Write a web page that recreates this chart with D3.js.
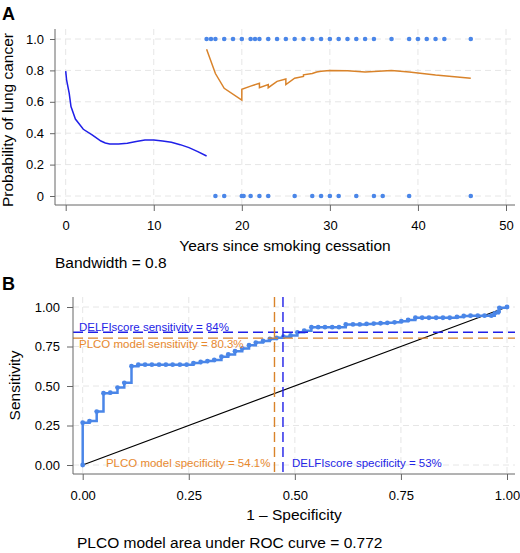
<!DOCTYPE html>
<html>
<head>
<meta charset="utf-8">
<script src="https://cdn.jsdelivr.net/npm/d3@7"></script>
<style>
  body { margin: 0; background: #fff; }
  text { font-family: "Liberation Sans", Arial, Helvetica, sans-serif; }
</style>
</head>
<body>
<script>
// Chart dimension
const width = 520;
const height = 553;

// Panel A: observed outcomes (0/1) by years since cessation
const eventYears = [16, 16.5, 17, 18, 19, 20, 21, 21.5, 22, 23, 24, 25, 26, 27, 28, 29, 30, 31, 32, 33, 34, 35, 37, 39, 40, 41, 42, 43, 46];
const noEventYears = [17, 18, 20, 20.2, 21, 22, 23, 26, 28, 29, 30, 31, 33, 35, 36, 39, 46];

// Panel A: smoothed probability, former smokers < 16 years
const recentYears = [0, 0.1, 0.4, 0.6, 1.1, 2, 3, 4, 4.5, 5, 6, 7, 8, 9, 10, 11, 12, 13, 14, 15, 16];
const recentProb = [0.795, 0.74, 0.654, 0.57, 0.49, 0.425, 0.39, 0.35, 0.338, 0.332, 0.332, 0.336, 0.347, 0.356, 0.356, 0.35, 0.342, 0.327, 0.308, 0.283, 0.255];

// Panel A: smoothed probability, former smokers >= 16 years
const longYears = [16, 17, 18, 20, 20, 21, 22, 22, 23, 23, 24, 25, 25, 26, 27, 27, 28, 28.5, 29, 30, 32, 34, 37, 39, 42, 46];
const longProb = [0.934, 0.78, 0.686, 0.611, 0.68, 0.70, 0.718, 0.69, 0.71, 0.69, 0.73, 0.745, 0.71, 0.75, 0.762, 0.772, 0.78, 0.79, 0.795, 0.80, 0.797, 0.79, 0.80, 0.79, 0.77, 0.75];

const xTicksA = [0, 10, 20, 30, 40, 50];
const yTicksA = [0, 0.2, 0.4, 0.6, 0.8, 1.0];

// Panel B: ROC curve
const rocFpr = [0, 0, 0.016, 0.033, 0.049, 0.065, 0.082, 0.098, 0.115, 0.131, 0.147, 0.163, 0.18, 0.196, 0.212, 0.229, 0.245,
  0.261, 0.278, 0.294, 0.31, 0.327, 0.343, 0.359, 0.376, 0.392, 0.408, 0.425, 0.441, 0.457, 0.473, 0.49, 0.506, 0.522,
  0.539, 0.555, 0.571, 0.588, 0.604, 0.62, 0.637, 0.653, 0.669, 0.686, 0.702, 0.718, 0.735, 0.751, 0.767, 0.784, 0.8,
  0.816, 0.833, 0.849, 0.865, 0.882, 0.898, 0.914, 0.931, 0.947, 0.963, 0.971, 0.98, 0.982, 1];
const rocSens = [0, 0.268, 0.278, 0.338, 0.454, 0.458, 0.49, 0.52, 0.625, 0.635, 0.635, 0.635, 0.635, 0.635, 0.635, 0.635, 0.635,
  0.645, 0.652, 0.658, 0.665, 0.685, 0.70, 0.72, 0.738, 0.758, 0.775, 0.785, 0.798, 0.805, 0.812, 0.82, 0.84, 0.85,
  0.872, 0.872, 0.872, 0.872, 0.872, 0.89, 0.89, 0.89, 0.893, 0.895, 0.897, 0.90, 0.903, 0.91, 0.918, 0.932, 0.932,
  0.932, 0.932, 0.932, 0.932, 0.937, 0.943, 0.945, 0.945, 0.945, 0.945, 0.96, 0.97, 0.995, 1];

const ticksB = [0, 0.25, 0.5, 0.75, 1];

// Panel B: operating points
const delfiSens = 0.84;
const plcoSens = 0.803;
const delfiFpr = 0.472;
const plcoFpr = 0.452;

const blueLine = "#1f1fe8";
const orange = "#d9832a";
const pointBlue = "#4a86e8";
const labelBlue = "#2424e6";
const labelOrange = "#e8892e";
const gridColor = "#e6e6e6";
const axisColor = "#666";

const svg = d3.select("body")
  .append("svg")
  .attr("width", width)
  .attr("height", height);

// Plot boxes
const boxA = { left: 55, right: 515, top: 29, bottom: 205 };
const boxB = { left: 73, right: 515, top: 297, bottom: 474 };

// ---------- Panel A ----------
const xA = d3.scaleLinear().domain([0, 50]).range([65.7, 506]);
const yA = d3.scaleLinear().domain([0, 1]).range([196, 39]);

// grid
svg.append("g").selectAll("line")
  .data(xTicksA)
  .enter()
  .append("line")
  .attr("x1", d => xA(d)).attr("x2", d => xA(d))
  .attr("y1", boxA.top).attr("y2", boxA.bottom)
  .attr("stroke", gridColor).attr("stroke-dasharray", "6,4");

svg.append("g").selectAll("line")
  .data(yTicksA)
  .enter()
  .append("line")
  .attr("x1", boxA.left).attr("x2", boxA.right)
  .attr("y1", d => yA(d)).attr("y2", d => yA(d))
  .attr("stroke", gridColor).attr("stroke-dasharray", "6,4");

// points
svg.append("g").selectAll("circle")
  .data(eventYears)
  .enter()
  .append("circle")
  .attr("cx", d => xA(d))
  .attr("cy", yA(1))
  .attr("r", 2.3)
  .attr("fill", pointBlue);

svg.append("g").selectAll("circle")
  .data(noEventYears)
  .enter()
  .append("circle")
  .attr("cx", d => xA(d))
  .attr("cy", yA(0))
  .attr("r", 2.3)
  .attr("fill", pointBlue);

// smoothed curves
const lineA = d3.line().x(d => xA(d[0])).y(d => yA(d[1]));

svg.append("path")
  .datum(recentYears.map((d, i) => [d, recentProb[i]]))
  .attr("d", lineA)
  .attr("fill", "none")
  .attr("stroke", blueLine)
  .attr("stroke-width", 1.5);

svg.append("path")
  .datum(longYears.map((d, i) => [d, longProb[i]]))
  .attr("d", lineA)
  .attr("fill", "none")
  .attr("stroke", orange)
  .attr("stroke-width", 1.5);

// axes
const xAxisA = svg.append("g")
  .attr("transform", `translate(0, ${boxA.bottom})`)
  .call(d3.axisBottom(xA).tickValues(xTicksA).tickSize(6).tickFormat(d3.format("d")));
xAxisA.select(".domain").remove();
xAxisA.append("line")
  .attr("x1", boxA.left).attr("x2", boxA.right)
  .attr("stroke", axisColor);

const yAxisA = svg.append("g")
  .attr("transform", `translate(${boxA.left}, 0)`)
  .call(d3.axisLeft(yA).tickValues(yTicksA).tickSize(5).tickPadding(6)
    .tickFormat(d => d === 0 ? "0" : d3.format(".1f")(d)));
yAxisA.select(".domain").remove();
yAxisA.append("line")
  .attr("y1", boxA.top).attr("y2", boxA.bottom)
  .attr("stroke", axisColor);

// ---------- Panel B ----------
const xB = d3.scaleLinear().domain([0, 1]).range([82.7, 507]);
const yB = d3.scaleLinear().domain([0, 1]).range([465, 307]);

svg.append("g").selectAll("line")
  .data(ticksB)
  .enter()
  .append("line")
  .attr("x1", d => xB(d)).attr("x2", d => xB(d))
  .attr("y1", boxB.top).attr("y2", boxB.bottom)
  .attr("stroke", gridColor).attr("stroke-dasharray", "6,4");

svg.append("g").selectAll("line")
  .data(ticksB)
  .enter()
  .append("line")
  .attr("x1", boxB.left).attr("x2", boxB.right)
  .attr("y1", d => yB(d)).attr("y2", d => yB(d))
  .attr("stroke", gridColor).attr("stroke-dasharray", "6,4");

// chance diagonal
svg.append("line")
  .attr("x1", xB(0)).attr("y1", yB(0))
  .attr("x2", xB(1)).attr("y2", yB(1))
  .attr("stroke", "#000")
  .attr("stroke-width", 1.2);

// ROC step curve
const rocData = rocFpr.map((d, i) => [d, rocSens[i]]);
svg.append("path")
  .datum(rocData)
  .attr("d", d3.line().x(d => xB(d[0])).y(d => yB(d[1])).curve(d3.curveStepAfter))
  .attr("fill", "none")
  .attr("stroke", pointBlue)
  .attr("stroke-width", 2.5);

svg.append("g").selectAll("circle")
  .data(rocData)
  .enter()
  .append("circle")
  .attr("cx", d => xB(d[0]))
  .attr("cy", d => yB(d[1]))
  .attr("r", 2.4)
  .attr("fill", pointBlue);

// reference lines
svg.append("line")
  .attr("x1", boxB.left).attr("x2", boxB.right)
  .attr("y1", yB(delfiSens)).attr("y2", yB(delfiSens))
  .attr("stroke", blueLine).attr("stroke-width", 1.4).attr("stroke-dasharray", "10,5");

svg.append("line")
  .attr("x1", boxB.left).attr("x2", boxB.right)
  .attr("y1", yB(plcoSens)).attr("y2", yB(plcoSens))
  .attr("stroke", orange).attr("stroke-width", 1.4).attr("stroke-dasharray", "10,5");

svg.append("line")
  .attr("x1", xB(plcoFpr)).attr("x2", xB(plcoFpr))
  .attr("y1", boxB.top).attr("y2", boxB.bottom)
  .attr("stroke", orange).attr("stroke-width", 1.4).attr("stroke-dasharray", "10,5");

svg.append("line")
  .attr("x1", xB(delfiFpr)).attr("x2", xB(delfiFpr))
  .attr("y1", boxB.top).attr("y2", boxB.bottom)
  .attr("stroke", blueLine).attr("stroke-width", 1.4).attr("stroke-dasharray", "10,5");

// reference labels
svg.append("text")
  .attr("x", 79).attr("y", 331)
  .attr("fill", labelBlue).style("font-size", "11.5px")
  .text("DELFIscore sensitivity = 84%");

svg.append("text")
  .attr("x", 79).attr("y", 348)
  .attr("fill", labelOrange).style("font-size", "11.5px")
  .text("PLCO model sensitivity = 80.3%");

svg.append("text")
  .attr("x", xB(plcoFpr) - 4).attr("y", 467)
  .attr("text-anchor", "end")
  .attr("fill", labelOrange).style("font-size", "11.5px")
  .text("PLCO model specificity = 54.1%");

svg.append("text")
  .attr("x", xB(delfiFpr) + 9).attr("y", 467)
  .attr("fill", labelBlue).style("font-size", "11.5px")
  .text("DELFIscore specificity = 53%");

// axes
const xAxisB = svg.append("g")
  .attr("transform", `translate(0, ${boxB.bottom})`)
  .call(d3.axisBottom(xB).tickValues(ticksB).tickSize(6).tickFormat(d3.format(".2f")));
xAxisB.select(".domain").remove();
xAxisB.append("line")
  .attr("x1", boxB.left).attr("x2", boxB.right)
  .attr("stroke", axisColor);

const yAxisB = svg.append("g")
  .attr("transform", `translate(${boxB.left}, 0)`)
  .call(d3.axisLeft(yB).tickValues(ticksB).tickSize(6).tickPadding(7).tickFormat(d3.format(".2f")));
yAxisB.select(".domain").remove();
yAxisB.append("line")
  .attr("y1", boxB.top).attr("y2", boxB.bottom)
  .attr("stroke", axisColor);

// axis styling
svg.selectAll(".tick line").attr("stroke", axisColor);
svg.selectAll(".tick text").attr("fill", "#000").style("font-size", "13px")
  .style("font-family", "'Liberation Sans', Arial, Helvetica, sans-serif");
xAxisA.selectAll(".tick text").attr("dy", null).attr("y", 25);
xAxisB.selectAll(".tick text").attr("dy", null).attr("y", 26);

// ---------- Titles ----------
svg.append("text")
  .attr("x", 2).attr("y", 20)
  .style("font-size", "18px").style("font-weight", "bold")
  .text("A");

svg.append("text")
  .attr("x", 2).attr("y", 290)
  .style("font-size", "18px").style("font-weight", "bold")
  .text("B");

svg.append("text")
  .attr("x", (boxA.left + boxA.right) / 2)
  .attr("y", 251)
  .attr("text-anchor", "middle")
  .style("font-size", "15.5px")
  .text("Years since smoking cessation");

svg.append("text")
  .attr("transform", "rotate(-90)")
  .attr("x", -120)
  .attr("y", 13)
  .attr("text-anchor", "middle")
  .style("font-size", "15.5px")
  .text("Probability of lung cancer");

svg.append("text")
  .attr("x", 55).attr("y", 268)
  .style("font-size", "15.5px")
  .text("Bandwidth = 0.8");

svg.append("text")
  .attr("x", (boxB.left + boxB.right) / 2)
  .attr("y", 520)
  .attr("text-anchor", "middle")
  .style("font-size", "15.5px")
  .text("1 \u2013 Specificity");

svg.append("text")
  .attr("transform", "rotate(-90)")
  .attr("x", -(boxB.top + boxB.bottom) / 2)
  .attr("y", 20)
  .attr("text-anchor", "middle")
  .style("font-size", "15.5px")
  .text("Sensitivity");

svg.append("text")
  .attr("x", 77).attr("y", 548)
  .style("font-size", "15.5px")
  .text("PLCO model area under ROC curve = 0.772");
</script>
</body>
</html>
